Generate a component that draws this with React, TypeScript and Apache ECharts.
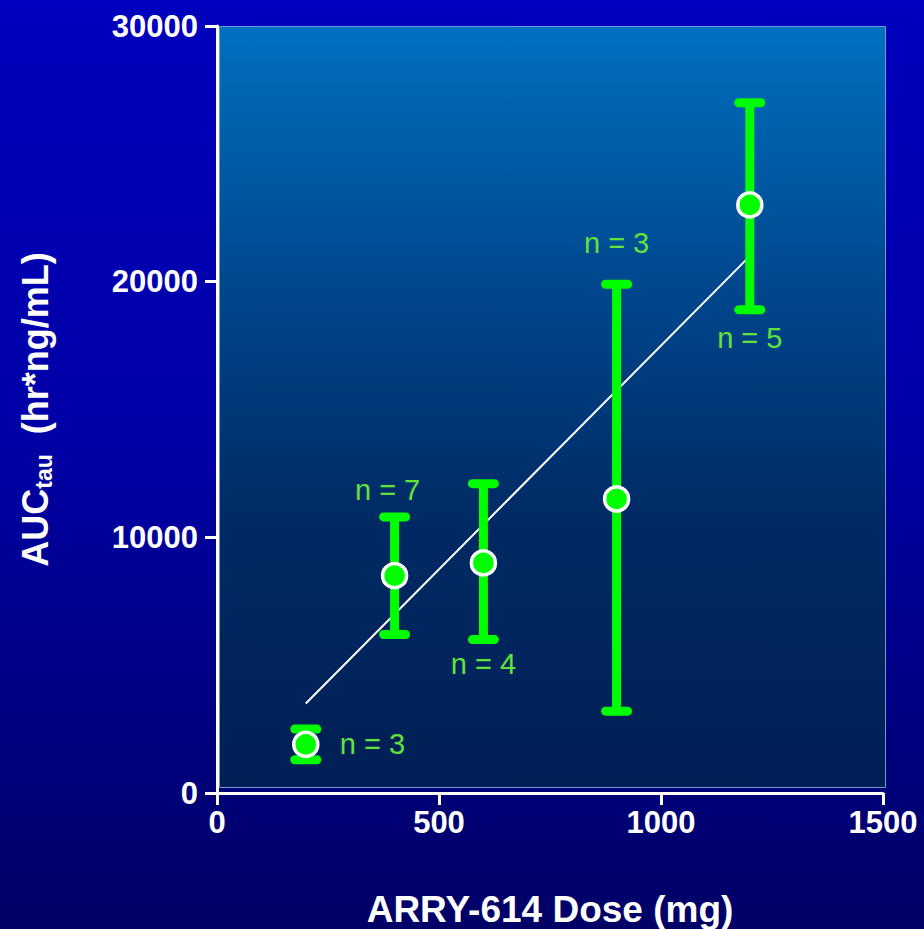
import React, { useEffect, useRef } from "react";
import * as echarts from "echarts";

// ---- data ----
const doses = [200, 400, 600, 900, 1200];
const aucMean = [1900, 8500, 9000, 11500, 23000];
const aucUpper = [2500, 10800, 12100, 19900, 27000];
const aucLower = [1300, 6200, 6000, 3200, 18900];
const nLabels = ["n = 3", "n = 7", "n = 4", "n = 3", "n = 5"];
const fitX = [200, 1200];
const fitY = [3500, 21000];
const xTicks = { min: 0, max: 1500, interval: 500 };
const yTicks = { min: 0, max: 30000, interval: 10000 };

// label placement (layout only)
const labelPlace = ["right", "top", "bottom", "top", "bottom"];
const labelDy = [0, -27, 24, -41, 28];
const labelDx = [34, -7, 0, 0, 0];

const FONT = '"Liberation Sans", Arial, Helvetica, sans-serif';
const GREEN = "#00ff00";
const LABEL_GREEN = "#62e23c";

export default function App() {
  const ref = useRef<HTMLDivElement>(null);

  useEffect(() => {
    if (!ref.current) return;
    const chart = echarts.init(ref.current, null, { renderer: "svg" });

    const option: any = {
      animation: false,
      backgroundColor: "transparent",
      grid: {
        left: 217,
        right: 41,
        top: 26,
        bottom: 136,
        containLabel: false,
        outerBoundsMode: "none",
      },
      graphic: [
        {
          type: "rect",
          left: 219,
          top: 26,
          z: -10,
          silent: true,
          shape: { width: 666, height: 761 },
          style: {
            fill: new echarts.graphic.LinearGradient(0, 0, 0, 1, [
              { offset: 0, color: "#0070c0" },
              { offset: 0.35, color: "#00468c" },
              { offset: 0.65, color: "#002a64" },
              { offset: 1, color: "#001f55" },
            ]),
            stroke: "#6f9bd6",
            lineWidth: 1,
          },
        },
      ],
      xAxis: {
        type: "value",
        min: xTicks.min,
        max: xTicks.max,
        interval: xTicks.interval,
        name: "ARRY-614 Dose (mg)",
        nameLocation: "middle",
        nameGap: 99,
        nameTextStyle: { color: "#fff", fontSize: 37, lineHeight: 35, fontWeight: "bold", fontFamily: FONT },
        axisLine: { show: true, onZero: false, lineStyle: { color: "#fff", width: 3 } },
        axisTick: { show: true, length: 12, lineStyle: { color: "#fff", width: 3 } },
        axisLabel: {
          color: "#fff",
          fontSize: 31,
          fontWeight: "bold",
          fontFamily: FONT,
          margin: 14,
          formatter: (v: number) => String(v),
        },
        splitLine: { show: false },
      },
      yAxis: {
        type: "value",
        min: yTicks.min,
        max: yTicks.max,
        interval: yTicks.interval,
        name: "{b|AUC}{s|tau}{b|  (hr*ng/mL)}",
        nameLocation: "middle",
        nameRotate: 90,
        nameGap: 162,
        nameTextStyle: {
          color: "#fff",
          fontSize: 36,
          fontWeight: "bold",
          fontFamily: FONT,
          rich: {
            b: { color: "#fff", fontSize: 36, fontWeight: "bold", fontFamily: FONT, lineHeight: 40 },
            s: { color: "#fff", fontSize: 23, fontWeight: "bold", fontFamily: FONT, verticalAlign: "bottom", lineHeight: 40 },
          },
        },
        axisLine: { show: true, onZero: false, lineStyle: { color: "#fff", width: 3 } },
        axisTick: { show: true, length: 12, lineStyle: { color: "#fff", width: 3 } },
        axisLabel: {
          color: "#fff",
          fontSize: 31,
          fontWeight: "bold",
          fontFamily: FONT,
          margin: 19,
          formatter: (v: number) => String(v),
        },
        splitLine: { show: false },
      },
      series: [
        {
          type: "line",
          data: fitX.map((x, i) => [x, fitY[i]]),
          symbol: "none",
          lineStyle: { color: "#ffffff", width: 2 },
          z: 1,
          silent: true,
        },
        {
          type: "custom",
          data: doses.map((d, i) => [d, aucLower[i], aucUpper[i], i]),
          z: 2,
          renderItem: (params: any, api: any) => {
            const x = api.value(0);
            const lo = api.value(1);
            const hi = api.value(2);
            const idx = api.value(3);
            const pHi = api.coord([x, hi]);
            const pLo = api.coord([x, lo]);
            const cap = 11;
            const lw = 9;
            const st = { stroke: GREEN, lineWidth: lw, lineCap: "round" };
            const place = labelPlace[idx];
            const tx = pHi[0] + labelDx[idx];
            let ty = 0;
            let align = "center";
            if (place === "right") {
              const pm = api.coord([x, aucMean[idx]]);
              ty = pm[1] + labelDy[idx];
              align = "left";
            } else if (place === "top") {
              ty = pHi[1] + labelDy[idx];
            } else {
              ty = pLo[1] + labelDy[idx];
            }
            return {
              type: "group",
              children: [
                { type: "line", shape: { x1: pHi[0], y1: pHi[1], x2: pLo[0], y2: pLo[1] }, style: { stroke: GREEN, lineWidth: lw } },
                { type: "line", shape: { x1: pHi[0] - cap, y1: pHi[1], x2: pHi[0] + cap, y2: pHi[1] }, style: st },
                { type: "line", shape: { x1: pLo[0] - cap, y1: pLo[1], x2: pLo[0] + cap, y2: pLo[1] }, style: st },
                {
                  type: "text",
                  x: tx,
                  y: ty,
                  style: {
                    text: nLabels[idx],
                    fill: LABEL_GREEN,
                    fontSize: 29,
                    fontFamily: FONT,
                    align,
                    verticalAlign: "middle",
                  },
                },
              ],
            };
          },
        },
        {
          type: "scatter",
          data: doses.map((d, i) => [d, aucMean[i]]),
          symbol: "circle",
          symbolSize: 24,
          itemStyle: { color: GREEN, borderColor: "#ffffff", borderWidth: 3.5, opacity: 1 },
          z: 3,
        },
      ],
    };

    chart.setOption(option);
    return () => chart.dispose();
  }, []);

  return (
    <div
      style={{
        position: "fixed",
        left: 0,
        top: 0,
        width: 924,
        height: 929,
        background: "linear-gradient(180deg, #0000bd 0%, #0000a8 45%, #000066 100%)",
      }}
    >
      <div ref={ref} style={{ width: 924, height: 929 }} />
    </div>
  );
}
